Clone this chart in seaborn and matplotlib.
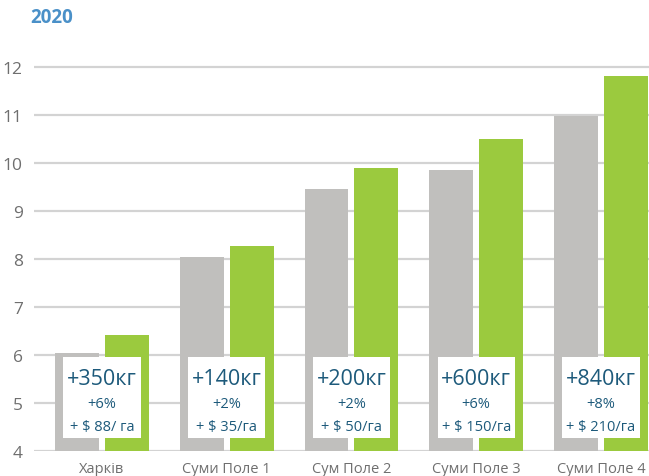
import matplotlib
matplotlib.use("Agg")
import matplotlib.pyplot as plt
import seaborn as sns
import pandas as pd
from matplotlib.patches import Rectangle

# --- data ---
categories = ["Харків", "Суми Поле 1", "Сум Поле 2", "Суми Поле 3", "Суми Поле 4"]
control = [6.04, 8.04, 9.46, 9.85, 10.98]
treated = [6.42, 8.27, 9.90, 10.50, 11.81]
gain_kg = ["+350кг", "+140кг", "+200кг", "+600кг", "+840кг"]
gain_pct = ["+6%", "+2%", "+2%", "+6%", "+8%"]
gain_usd = ["+ $ 88/ га", "+ $ 35/га", "+ $ 50/га", "+ $ 150/га", "+ $ 210/га"]
y_ticks = [4, 5, 6, 7, 8, 9, 10, 11, 12]

df = pd.DataFrame({
    "place": categories * 2,
    "yield": control + treated,
    "series": ["control"] * len(categories) + ["treated"] * len(categories),
})

sns.set_theme(style="white")
plt.rcParams["font.family"] = ["Open Sans", "DejaVu Sans"]

GRAY = "#c0bfbd"
GREEN = "#9bca3e"
TEXT = "#1d5a7b"
TICK = "#6f6f6f"

fig = plt.figure(figsize=(6.49, 4.77), dpi=100)
ax = fig.add_axes([0.0524, 0.0524, 0.9476, 0.866])

sns.barplot(data=df, x="place", y="yield", hue="series",
            palette=[GRAY, GREEN], width=0.80, gap=0.12,
            saturation=1, linewidth=0, legend=False, ax=ax, zorder=2)

ax.set_ylim(4, 12.6)
ax.set_xlim(-0.545, len(categories) - 1 + 0.385)
ax.set_yticks(y_ticks)
ax.yaxis.grid(True, color="#d3d3d3", linewidth=1.6, zorder=0)
ax.set_axisbelow(True)
for s in ax.spines.values():
    s.set_visible(False)
ax.tick_params(axis="y", length=0, pad=8, labelsize=12.5, labelcolor=TICK)
ax.tick_params(axis="x", length=0, pad=7, labelsize=10.5, labelcolor=TICK)
ax.set_xlabel("")
ax.set_ylabel("")

# annotation boxes
for i in range(len(categories)):
    ax.add_patch(Rectangle((i - 0.31, 4.27), 0.62, 1.68, facecolor="white",
                           edgecolor="none", zorder=3))
    ax.text(i, 5.5, gain_kg[i], ha="center", va="center", fontsize=15.5,
            color=TEXT, zorder=4)
    ax.text(i, 4.98, gain_pct[i], ha="center", va="center", fontsize=10.5,
            color=TEXT, zorder=4)
    ax.text(i, 4.52, gain_usd[i], ha="center", va="center", fontsize=10.5,
            color=TEXT, zorder=4)

fig.text(30 / 649, 1 - 18 / 477, "2020", ha="left", va="center",
         fontsize=13.5, fontweight="bold", color="#4a90c8")

fig.savefig("out.png", dpi=100)
